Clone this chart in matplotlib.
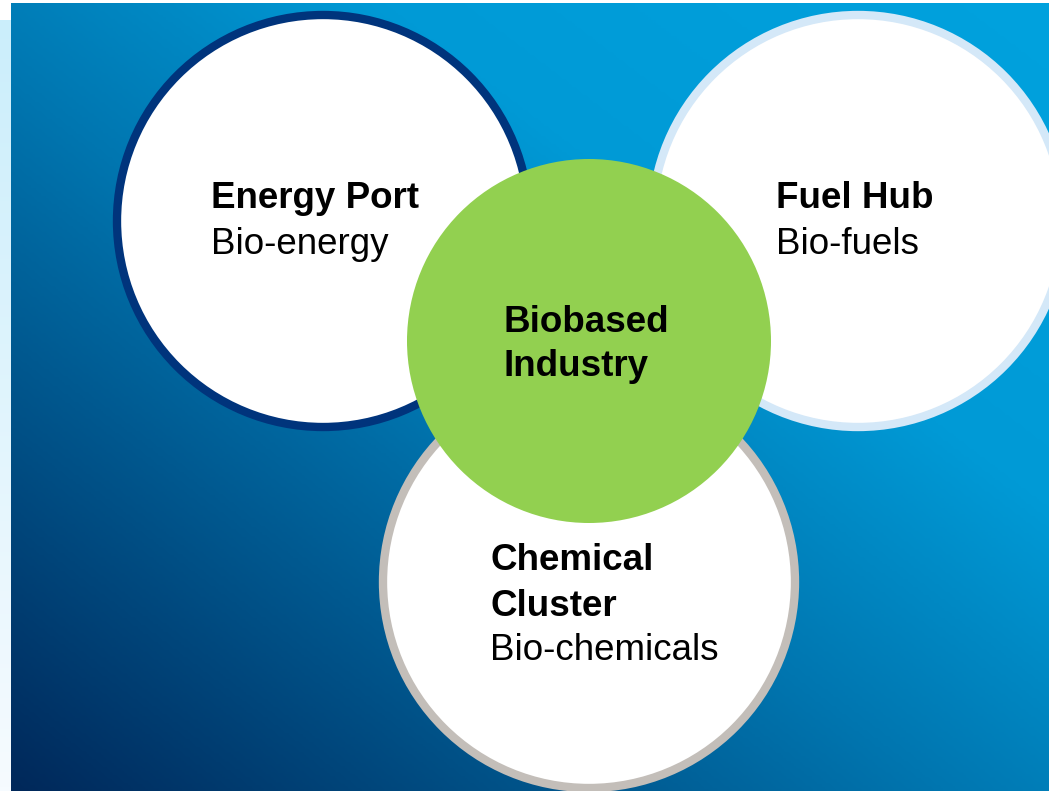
import numpy as np
import matplotlib.pyplot as plt
from matplotlib.colors import LinearSegmentedColormap
from matplotlib.patches import Circle

plt.rcParams['font.family'] = ['Liberation Sans', 'DejaVu Sans']

# labels
titles = [['Energy Port'], ['Fuel Hub'], ['Chemical', 'Cluster']]
subtitles = ['Bio-energy', 'Bio-fuels', 'Bio-chemicals']
center_title = ['Biobased', 'Industry']

# styles / layout (pixel coordinates of the 1049x791 canvas)
ring_colors = ['#00347C', '#D4E8F8', '#C3BEB9']
ring_centers = [(323, 221), (858, 221), (589, 582)]
ring_radius = 210
text_pos = [(211, 199), (776, 199), (490, 561)]
green = '#92D050'
green_center = (589, 341)
green_radius = 182
line_h = 45

W, H = 1049, 791
fig = plt.figure(figsize=(W / 100, H / 100), dpi=100)
ax = fig.add_axes([0, 0, 1, 1])
ax.set_xlim(0, W)
ax.set_ylim(H, 0)
ax.set_aspect('equal')
ax.axis('off')

# light strip on the left
strip = np.linspace(0, 1, 200).reshape(-1, 1)
strip_cmap = LinearSegmentedColormap.from_list('strip', ['#CBEEFB', '#F6FBFF'])
ax.imshow(strip, cmap=strip_cmap, extent=[0, 11, H, 20], aspect='auto', zorder=0)

# blue gradient background
xx, yy = np.meshgrid(np.linspace(0, 1, 400), np.linspace(0, 1, 300))
t = (xx + (1 - yy)) / 2
bg_cmap = LinearSegmentedColormap.from_list(
    'bg', [(0, '#00285A'), (0.45, '#0076B0'), (0.68, '#009AD6'), (1, '#00A2DE')])
ax.imshow(t, cmap=bg_cmap, extent=[11, W, H, 3], origin='upper', aspect='auto',
          zorder=1, interpolation='bilinear')

# outer circles
for (cx, cy), col in zip(ring_centers, ring_colors):
    ax.add_patch(Circle((cx, cy), ring_radius - 4, facecolor='white', edgecolor=col,
                        linewidth=6, zorder=2))

# middle circle
ax.add_patch(Circle(green_center, green_radius, facecolor=green, edgecolor='none', zorder=3))

for (x, y), ttl, sub in zip(text_pos, titles, subtitles):
    for i, line in enumerate(ttl):
        ax.text(x, y + line_h * i, line, fontsize=26.5, fontweight='bold', color='black',
                ha='left', va='center', zorder=4)
    ax.text(x, y + line_h * len(ttl), sub, fontsize=26.5, color='black',
            ha='left', va='center', zorder=4)

for i, line in enumerate(center_title):
    ax.text(504, 322 + line_h * i, line, fontsize=26.5, fontweight='bold', color='black',
            ha='left', va='center', zorder=4)

fig.savefig('out.png', dpi=100)
